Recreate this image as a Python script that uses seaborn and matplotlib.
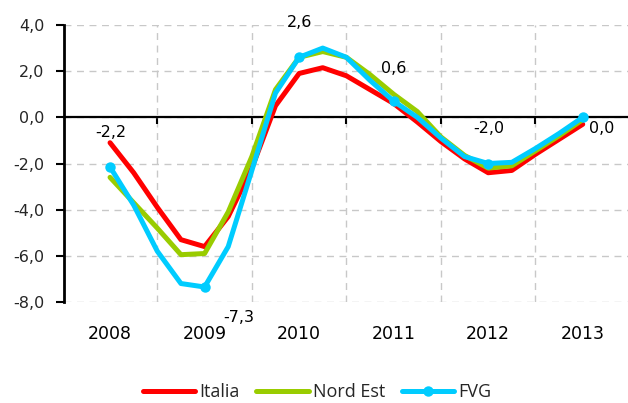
import numpy as np
import pandas as pd
import matplotlib
matplotlib.use("Agg")
import matplotlib.pyplot as plt
from matplotlib.ticker import FuncFormatter
import seaborn as sns

# ---- data ----
years = ["2008", "2009", "2010", "2011", "2012", "2013"]
period = np.arange(21) / 4.0  # quarterly steps, year labels at integer positions
italia = [-1.1, -2.4, -3.9, -5.3, -5.6, -4.3, -2.2, 0.5, 1.9, 2.15, 1.8, 1.2, 0.6,
          -0.2, -1.05, -1.8, -2.4, -2.3, -1.6, -0.95, -0.3]
nord_est = [-2.6, -3.7, -4.8, -5.95, -5.9, -4.1, -1.7, 1.2, 2.6, 2.85, 2.6, 1.85, 1.0,
            0.25, -0.85, -1.65, -2.2, -2.1, -1.45, -0.8, -0.1]
fvg = [-2.15, -3.8, -5.8, -7.2, -7.35, -5.6, -2.3, 1.05, 2.6, 3.0, 2.6, 1.6, 0.7,
       0.0, -0.9, -1.7, -2.0, -1.95, -1.35, -0.7, 0.0]
fvg_labels = ["-2,2", "-7,3", "2,6", "0,6", "-2,0", "0,0"]
series_names = ["Italia", "Nord Est", "FVG"]
colors = {"Italia": "#FF0000", "Nord Est": "#99CC00", "FVG": "#00CCFF"}

df = pd.concat([
    pd.DataFrame({"x": period, "value": italia, "serie": "Italia"}),
    pd.DataFrame({"x": period, "value": nord_est, "serie": "Nord Est"}),
    pd.DataFrame({"x": period, "value": fvg, "serie": "FVG"}),
], ignore_index=True)

sns.set_style("white")
plt.rcParams["font.family"] = ["DejaVu Sans"]

fig = plt.figure(figsize=(6.28, 4.03), dpi=100)
ax = fig.add_axes([64 / 628, 1 - 302 / 403, 566 / 628, 277 / 403])

for s in series_names:
    sub = df[df["serie"] == s]
    kw = dict(color=colors[s], linewidth=3.6, label=s, ax=ax, legend=False)
    if s == "FVG":
        kw.update(marker="o", markersize=7.5, markevery=4, markeredgewidth=0)
    sns.lineplot(data=sub, x="x", y="value", **kw)

# data labels for FVG annual points
fvg_sub = df[df["serie"] == "FVG"].reset_index(drop=True)
offsets = [(1, 34), (34, -31), (0, 35), (0, 33), (1, 35), (19, -11)]
for k, lab in enumerate(fvg_labels):
    row = fvg_sub.iloc[k * 4]
    ax.annotate(lab, (row["x"], row["value"]), xytext=offsets[k],
                textcoords="offset pixels", ha="center", va="center",
                fontsize=11.5, color="#000000")

ax.set_xlim(-0.487, 5.5)
ax.set_ylim(-8, 4)
ax.set_yticks(np.arange(-8, 4.01, 2))
ax.yaxis.set_major_formatter(FuncFormatter(lambda v, p: f"{v:.1f}".replace(".", ",")))
ax.set_xticks(np.arange(0.5, 5.0, 1.0))
ax.set_xticklabels([])

# grid
ax.grid(True, which="major", axis="both", color="#C8C8C8", linestyle=(0, (5, 4)), linewidth=1.0)
ax.set_axisbelow(True)

for sp in ["top", "right"]:
    ax.spines[sp].set_visible(False)
ax.spines["left"].set_color("black")
ax.spines["left"].set_linewidth(2.0)
ax.spines["bottom"].set_position(("data", 0))
ax.spines["bottom"].set_color("black")
ax.spines["bottom"].set_linewidth(1.6)
ax.spines["bottom"].set_zorder(1.5)

ax.tick_params(axis="y", direction="out", length=6, width=1.5, color="black",
               labelsize=11.5, pad=8, left=True)
ax.tick_params(axis="x", direction="out", length=5, width=1.5, color="black", bottom=True)

ax.set_xlabel("")
ax.set_ylabel("")

# year labels centered in each category
for i, y in enumerate(years):
    ax.text(i, -0.115, y, transform=ax.get_xaxis_transform(), ha="center", va="center",
            fontsize=12.5, color="#000000")

handles, labels = ax.get_legend_handles_labels()
fig.legend(handles, labels, loc="center", bbox_to_anchor=(0.505, 0.027), ncol=3,
           frameon=False, handlelength=2.9, handletextpad=0.25, columnspacing=0.9,
           prop={"family": "Open Sans", "size": 13})

fig.savefig("out.png", dpi=100)
